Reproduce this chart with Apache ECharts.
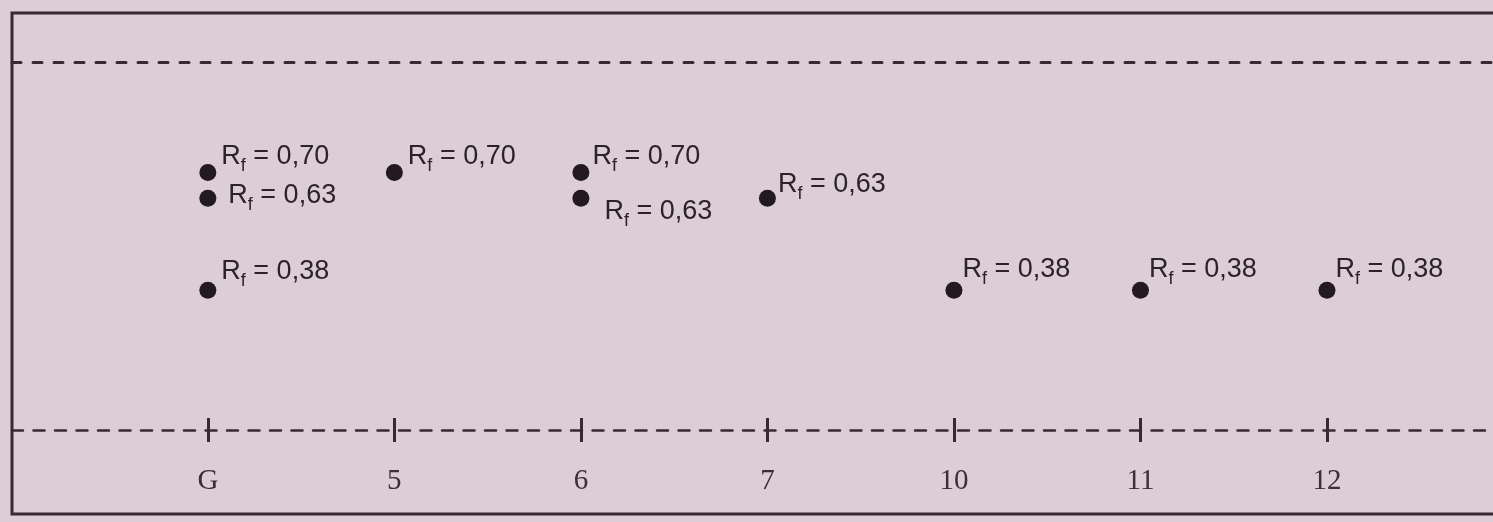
<!DOCTYPE html>
<html>
<head>
<meta charset="utf-8">
<script src="https://cdn.jsdelivr.net/npm/echarts@6/dist/echarts.min.js"></script>
<style>
  html, body { margin: 0; padding: 0; background: #ddcdd5; }
  #main { width: 1493px; height: 522px; }
</style>
</head>
<body>
<div id="main"></div>
<script>
// lanes on the plate (G = reference)
var laneNames = ['G', '5', '6', '7', '10', '11', '12'];
var laneIdx = [0, 1, 2, 3, 4, 5, 6];

// spots: which lane, and Rf value
var spotLane = [0, 0, 0, 1, 2, 2, 3, 4, 5, 6];
var spotRf = [0.70, 0.63, 0.38, 0.70, 0.70, 0.63, 0.63, 0.38, 0.38, 0.38];

// where each "Rf = ..." label sits next to its spot
var labelShift = [[5, -16], [12, -3], [5, -19], [5, -16], [3, -16], [15, 13], [2, -14], [0, -21], [0, -21], [0, -21]];

var ink = '#2b2327';
var lineInk = '#352b30';

var spots = spotRf.map(function (rf, i) {
  return {
    value: [spotLane[i], rf],
    label: { offset: labelShift[i] }
  };
});

function rfText(v) {
  return '{m|R}{s|f}{m| = ' + v.toFixed(2).replace('.', ',') + '}';
}

var chart = echarts.init(document.getElementById('main'));
chart.setOption({
  backgroundColor: '#ddcdd5',
  animation: false,
  grid: { left: 12, right: 0, top: 62, bottom: 92 },
  xAxis: [
    {
      type: 'value', min: -1.05, max: 6.89, position: 'bottom',
      axisLine: { show: true, lineStyle: { color: lineInk, width: 2.5, type: [11, 10.5] } },
      axisTick: { show: true, customValues: laneIdx, length: 12, lineStyle: { color: lineInk, width: 3 } },
      axisLabel: {
        customValues: laneIdx,
        formatter: function (v) { return laneNames[v]; },
        margin: 37, fontFamily: 'Liberation Serif', fontSize: 29, color: '#3a3035'
      },
      splitLine: { show: false }
    },
    {
      type: 'value', min: -1.05, max: 6.89, position: 'bottom',
      axisLine: { show: false },
      axisTick: { show: true, inside: true, customValues: laneIdx, length: 12, lineStyle: { color: lineInk, width: 3 } },
      axisLabel: { show: false },
      splitLine: { show: false }
    },
    {
      // solvent front
      type: 'value', min: -1.05, max: 6.89, position: 'top',
      axisLine: { show: true, lineStyle: { color: lineInk, width: 3, type: [9, 12] } },
      axisTick: { show: false },
      axisLabel: { show: false },
      splitLine: { show: false }
    }
  ],
  yAxis: { type: 'value', min: 0, max: 1, show: false },
  graphic: [
    {
      type: 'rect',
      shape: { x: 12, y: 13, width: 1500, height: 501 },
      style: { fill: 'none', stroke: lineInk, lineWidth: 3 },
      silent: true
    }
  ],
  series: [
    {
      type: 'scatter',
      xAxisIndex: 0,
      symbol: 'circle',
      symbolSize: 17,
      itemStyle: { color: '#221a1e', opacity: 1 },
      data: spots,
      label: {
        show: true,
        position: 'right',
        distance: 0,
        formatter: function (p) { return rfText(p.value[1]); },
        color: ink,
        rich: {
          m: { fontFamily: 'Liberation Sans', fontSize: 27, lineHeight: 38, verticalAlign: 'middle', color: ink },
          s: { fontFamily: 'Liberation Sans', fontSize: 18, lineHeight: 18, padding: [20, 0, 0, 0], verticalAlign: 'top', color: ink }
        }
      }
    }
  ]
});
</script>
</body>
</html>
